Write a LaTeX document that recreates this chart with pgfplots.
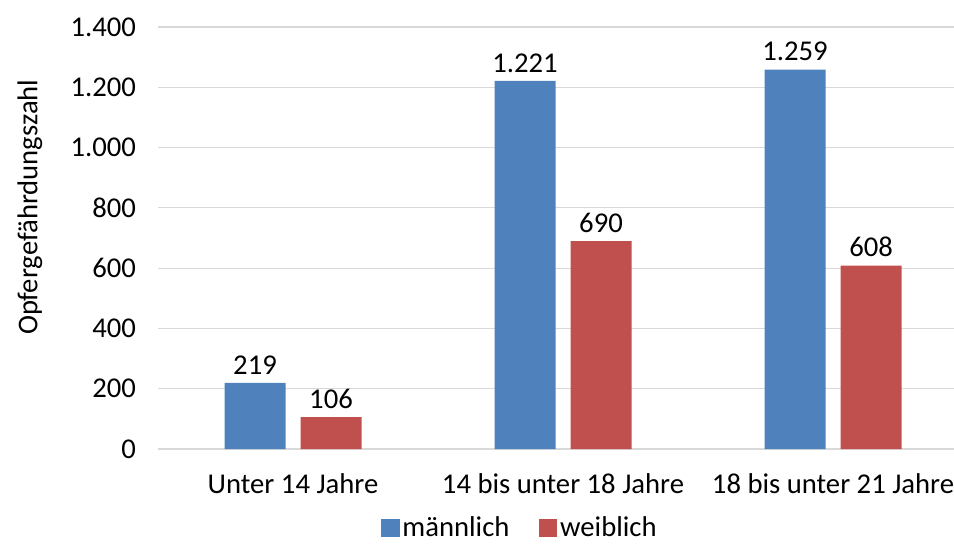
\documentclass[border=0pt]{standalone}
\usepackage{pgfplots}
\pgfplotsset{compat=1.18}
\usepackage{fontspec}
\setmainfont{Carlito}
\definecolor{mblue}{HTML}{4F81BD}
\definecolor{wred}{HTML}{C0504D}
\definecolor{gridgray}{HTML}{D9D9D9}
\begin{document}
\begin{tikzpicture}
\begin{axis}[
  scale only axis,
  width=597pt, height=316.5pt,
  xmin=-0.5, xmax=2.448,
  ymin=0, ymax=1400,
  ytick={0,200,...,1400},
  xtick={0,1,2},
  xticklabels={Unter 14 Jahre, 14 bis unter 18 Jahre, 18 bis unter 21 Jahre},
  axis line style={draw=none},
  major tick length=0pt,
  ymajorgrids,
  grid style={gridgray, line width=0.9pt},
  font=\fontsize{21.5}{26}\selectfont,
  /pgf/number format/.cd, 1000 sep={.}, assume math mode=true,
  /pgfplots/.cd,
  yticklabel style={xshift=-13pt},
  xticklabel style={yshift=-15pt},
  ylabel={Opfergefährdungszahl},
  every axis y label/.style={at={(axis description cs:-0.161,0.573)}, rotate=90, anchor=center},
  ybar, bar width=45.75pt,
  nodes near coords,
  every node near coord/.append style={yshift=3pt, black},
  legend style={at={(0.455,-0.187)}, anchor=center, draw=none, legend columns=2,
    inner sep=1pt, /tikz/every even column/.append style={column sep=20pt}},
  legend image code/.code={\fill[#1] (0pt,-7pt) rectangle (14pt,7pt);},
]
\addplot[fill=mblue, draw=none, bar shift=-28.5pt] coordinates {(0,219) (1,1221) (2,1259)};
\addlegendentry{männlich}
\addplot[fill=wred, draw=none, bar shift=28.5pt] coordinates {(0,106) (1,690) (2,608)};
\addlegendentry{weiblich}
\coordinate (bl) at (rel axis cs:-0.1985,-0.2275);
\coordinate (tr) at (rel axis cs:1.0,1.064);
\end{axis}
\pgfresetboundingbox
\path (bl) rectangle (tr);
\end{tikzpicture}
\end{document}
